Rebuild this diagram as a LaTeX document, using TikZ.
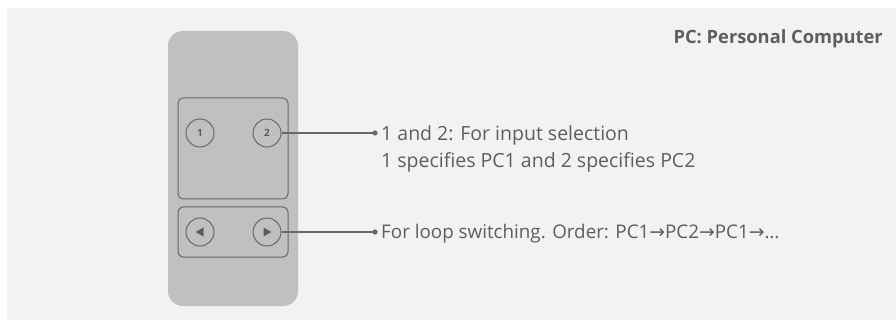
\documentclass[tikz,border=0pt]{standalone}
\usepackage{fontspec}
\setmainfont{Open Sans}
\newfontfamily\arrowfont{DejaVu Sans}
\usetikzlibrary{positioning}
\definecolor{paper}{HTML}{F2F2F1}
\definecolor{casing}{HTML}{C0C0C2}
\definecolor{ink}{HTML}{5E5E5E}
\definecolor{wire}{HTML}{686868}
\newcommand{\rarr}{{\arrowfont\char"2192}}

\begin{document}
\begin{tikzpicture}[x=1pt, y=-1pt,
  key/.style={draw=wire, line width=1pt, circle, minimum size=28pt, inner sep=0pt,
    font=\fontsize{10}{10}\selectfont\bfseries, text=ink},
  panel/.style={draw=wire, line width=1pt, rounded corners=5pt},
  note/.style={anchor=base west, inner sep=0pt, text=ink, font=\fontsize{19.5}{22}\selectfont},
  lead/.style={draw=wire, line width=1.6pt}]
\useasboundingbox (0,0) rectangle (896,320);
\fill[paper] (7,8) rectangle (896,320);

% remote control
\fill[casing, rounded corners=15pt] (168,31) rectangle (298,306);
\draw[panel] (178,98) rectangle (288,199);
\draw[panel] (178,207) rectangle (288,257);

\node[key] (one) at (200,133) {1};
\node[key] (two) at (267,133) {2};
\node[key] (prev) at (200,232) {};
\node[key] (next) at (267,232) {};
\fill[ink, shift={(prev.center)}] (-4.5,0) -- (3.5,-4.5) -- (3.5,4.5) -- cycle;
\fill[ink, shift={(next.center)}] (4.5,0) -- (-3.5,-4.5) -- (-3.5,4.5) -- cycle;

% leader lines
\coordinate (selDot) at (375,133);
\coordinate (loopDot) at (375,232);
\draw[lead] (two) -- (selDot);
\draw[lead] (next) -- (loopDot);
\fill[wire] (selDot) circle (2.6);
\fill[wire] (loopDot) circle (2.6);

% notes
\node[note] (selA) at (381,141) {1 and 2: For input selection};
\node[note] (selB) at (381,168) {1 specifies PC1 and 2 specifies PC2};
\node[note, font=\fontsize{18.8}{22}\selectfont] (loopA) at (381,239) {For loop switching. Order: PC1\rarr PC2\rarr PC1\rarr\dots};
\node[note, anchor=base east, font=\fontsize{18.3}{22}\selectfont\bfseries] (legend) at (883,44) {PC: Personal Computer};
\end{tikzpicture}
\end{document}
